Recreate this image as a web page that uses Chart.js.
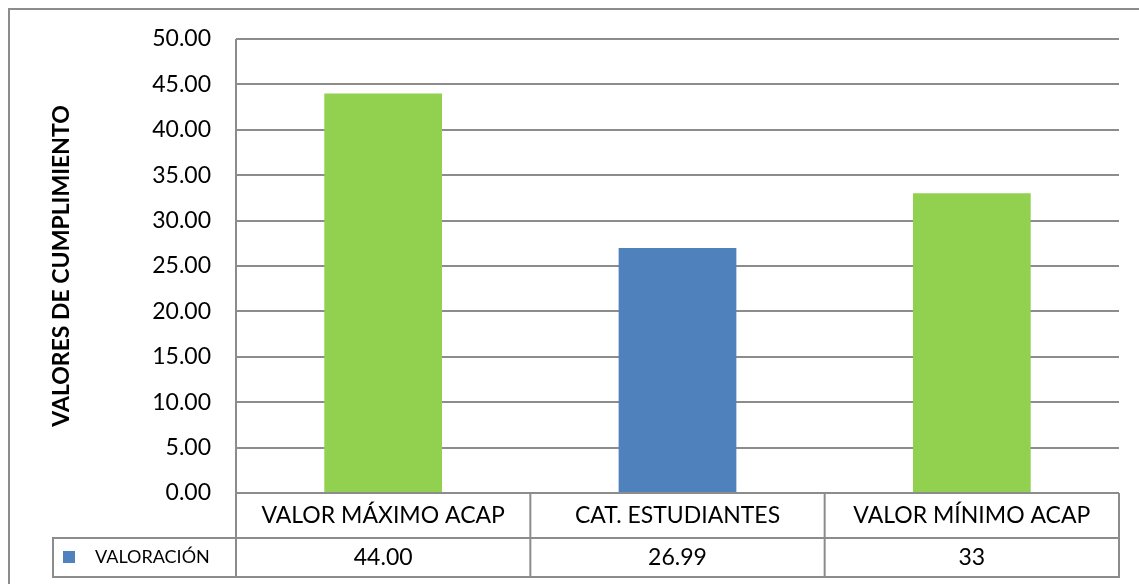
<!DOCTYPE html>
<html>
<head>
<meta charset="utf-8">
<script src="https://cdn.jsdelivr.net/npm/chart.js@4"></script>
<style>
  html, body { margin: 0; padding: 0; background: #fff; }
  #wrap { width: 1139px; height: 584px; }
</style>
</head>
<body>
<div id="wrap"><canvas id="chart" width="1139" height="584"></canvas></div>
<script>
// Categorías y valores de la serie
var categories = ['VALOR MÁXIMO ACAP', 'CAT. ESTUDIANTES', 'VALOR MÍNIMO ACAP'];
var values = [44.00, 26.99, 33];
var tableValues = ['44.00', '26.99', '33'];
var barColors = ['#92D050', '#4F81BD', '#92D050'];
var seriesName = 'VALORACIÓN';
var axisTitle = 'VALORES DE CUMPLIMIENTO';

var FONT = 'Lato, "Open Sans", sans-serif';
var LINE = '#8c8c8c';

// Marco, título del eje y tabla de datos bajo el gráfico
var tablePlugin = {
    id: 'dataTable',
    afterDraw: function(chart) {
        var c = chart.ctx;
        var area = chart.chartArea;
        var x = chart.scales.x;
        var rowH1 = 45, rowH2 = 39;
        var top = area.bottom;
        var mid = top + rowH1;
        var bot = mid + rowH2;
        var legendLeft = 53;
        var half = (x.getPixelForValue(1) - x.getPixelForValue(0)) / 2;

        c.save();
        c.strokeStyle = LINE;
        c.lineWidth = 2;

        // marco exterior
        c.beginPath();
        c.moveTo(1139, 9);
        c.lineTo(9, 9);
        c.lineTo(9, 584);
        c.stroke();

        // líneas de la tabla
        c.beginPath();
        c.moveTo(area.left, area.top);
        c.lineTo(area.left, bot);
        c.moveTo(area.left, mid);
        c.lineTo(legendLeft, mid);
        c.lineTo(legendLeft, bot);
        c.lineTo(area.right, bot);
        c.lineTo(area.right, top);
        c.moveTo(area.left, mid);
        c.lineTo(area.right, mid);
        for (var i = 1; i < categories.length; i++) {
            var bx = x.getPixelForValue(i) - half;
            c.moveTo(bx, top);
            c.lineTo(bx, bot);
        }
        c.stroke();

        // textos de categorías y valores
        c.fillStyle = '#000';
        c.font = '23px ' + FONT;
        c.textAlign = 'center';
        c.textBaseline = 'middle';
        for (var j = 0; j < categories.length; j++) {
            var cx = x.getPixelForValue(j);
            c.fillText(categories[j], cx, top + rowH1 / 2);
            c.fillText(tableValues[j], cx, mid + rowH2 / 2);
        }

        // leyenda de la serie
        c.fillStyle = '#4F81BD';
        c.fillRect(63, mid + 13, 12, 12);
        c.fillStyle = '#000';
        c.font = '18px ' + FONT;
        c.textAlign = 'left';
        c.fillText(seriesName, 95, mid + rowH2 / 2);

        // título del eje vertical
        c.translate(62, (area.top + area.bottom) / 2);
        c.rotate(-Math.PI / 2);
        c.font = 'bold 23px ' + FONT;
        c.textAlign = 'center';
        c.fillText(axisTitle, 0, 0);
        c.restore();
    }
};

new Chart(document.getElementById('chart').getContext('2d'), {
    type: 'bar',
    data: {
        labels: categories,
        datasets: [{
            label: seriesName,
            data: values,
            backgroundColor: barColors,
            barPercentage: 0.4,
            categoryPercentage: 1.0
        }]
    },
    options: {
        responsive: false,
        animation: false,
        layout: { padding: { top: 39, bottom: 91, right: 20, left: 0 } },
        plugins: {
            legend: { display: false },
            tooltip: { enabled: false }
        },
        scales: {
            x: { display: false },
            y: {
                min: 0,
                max: 50,
                ticks: {
                    stepSize: 5,
                    padding: 25,
                    color: '#000',
                    font: { family: FONT, size: 23 },
                    callback: function(v) { return v.toFixed(2); }
                },
                grid: { color: LINE, lineWidth: 2, drawTicks: false },
                border: { display: false },
                afterFit: function(scale) { scale.width = 236; }
            }
        }
    },
    plugins: [tablePlugin]
});
</script>
</body>
</html>
